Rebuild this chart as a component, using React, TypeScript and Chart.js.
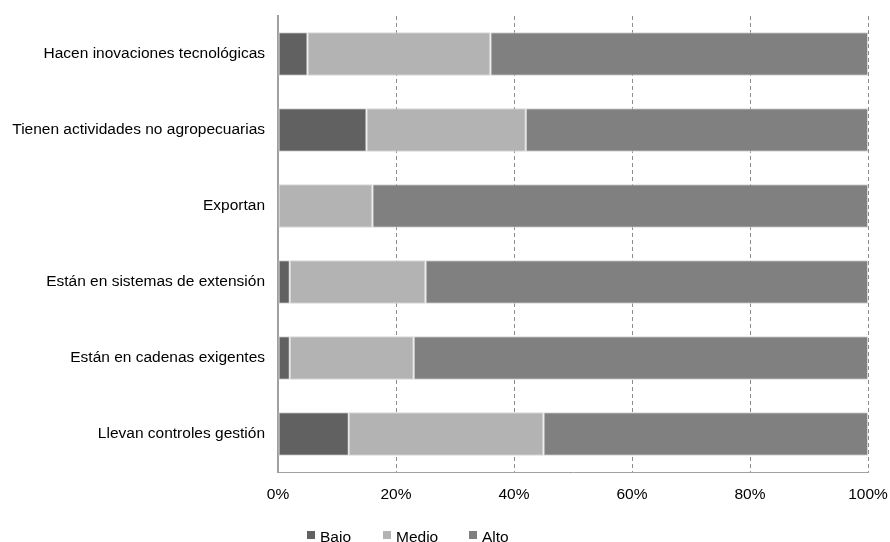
import React, { useEffect, useRef } from "react";
import { Chart, registerables } from "chart.js";

Chart.register(...registerables);

const categories = [
  "Hacen inovaciones tecnológicas",
  "Tienen actividades no agropecuarias",
  "Exportan",
  "Están en sistemas de extensión",
  "Están en cadenas exigentes",
  "Llevan controles gestión",
];
const bajo = [5, 15, 0, 2, 2, 12];
const medio = [31, 27, 16, 23, 21, 33];
const alto = [64, 58, 84, 75, 77, 55];
const seriesNames = ["Bajo", "Medio", "Alto"];
const seriesColors = ["#616161", "#b3b3b3", "#808080"];

const FONT = "'Liberation Sans', Arial, sans-serif";

const legendPlugin = {
  id: "customLegend",
  afterDraw(chart: any) {
    const ctx = chart.ctx;
    const xs = [307, 383, 469];
    ctx.save();
    ctx.font = `15.5px ${FONT}`;
    ctx.textBaseline = "middle";
    ctx.textAlign = "left";
    seriesNames.forEach((n, i) => {
      ctx.fillStyle = seriesColors[i];
      ctx.fillRect(xs[i], 531, 8, 8);
      ctx.fillStyle = "#000";
      ctx.fillText(n, xs[i] + 13, 538);
    });
    ctx.restore();
  },
};

export default function App() {
  const ref = useRef<HTMLCanvasElement>(null);
  useEffect(() => {
    document.body.style.margin = "0";
    const ds = [bajo, medio, alto].map((d, i) => ({
      label: seriesNames[i],
      data: d,
      backgroundColor: seriesColors[i],
      borderColor: "#d6d6d6",
      borderWidth: 1,
      borderSkipped: false,
      categoryPercentage: 1,
      barPercentage: 0.57,
    }));
    const chart = new Chart(ref.current!, {
      type: "bar",
      data: { labels: categories, datasets: ds },
      plugins: [legendPlugin],
      options: {
        indexAxis: "y",
        responsive: false,
        animation: false,
        layout: { padding: { top: 16, right: 22, bottom: 40, left: 0 } },
        plugins: { legend: { display: false }, tooltip: { enabled: false } },
        scales: {
          x: {
            stacked: true,
            min: 0,
            max: 100,
            ticks: {
              stepSize: 20,
              callback: (v: any) => v + "%",
              color: "#000",
              font: { family: FONT, size: 15.5 },
              padding: 13,
            },
            grid: {
              color: (c: any) => (c.tick && c.tick.value === 0 ? "rgba(0,0,0,0)" : "#8c8c8c"),
              drawTicks: false,
              lineWidth: 1,
            },
            border: { display: true, color: "#a0a0a0", dash: [4, 3] },
            afterFit: (s: any) => {
              s.height = 30;
              s.paddingLeft = 0;
              s.paddingRight = 0;
            },
          },
          y: {
            stacked: true,
            ticks: {
              color: "#000",
              font: { family: FONT, size: 15.5 },
              padding: 13,
            },
            grid: { display: false, drawTicks: false },
            border: { display: true, color: "#a0a0a0", width: 2 },
            afterFit: (s: any) => {
              s.width = 278;
              s.paddingTop = 0;
              s.paddingBottom = 0;
            },
          },
        },
      },
    } as any);
    return () => chart.destroy();
  }, []);
  return <canvas ref={ref} width={890} height={542} style={{ display: "block" }} />;
}
